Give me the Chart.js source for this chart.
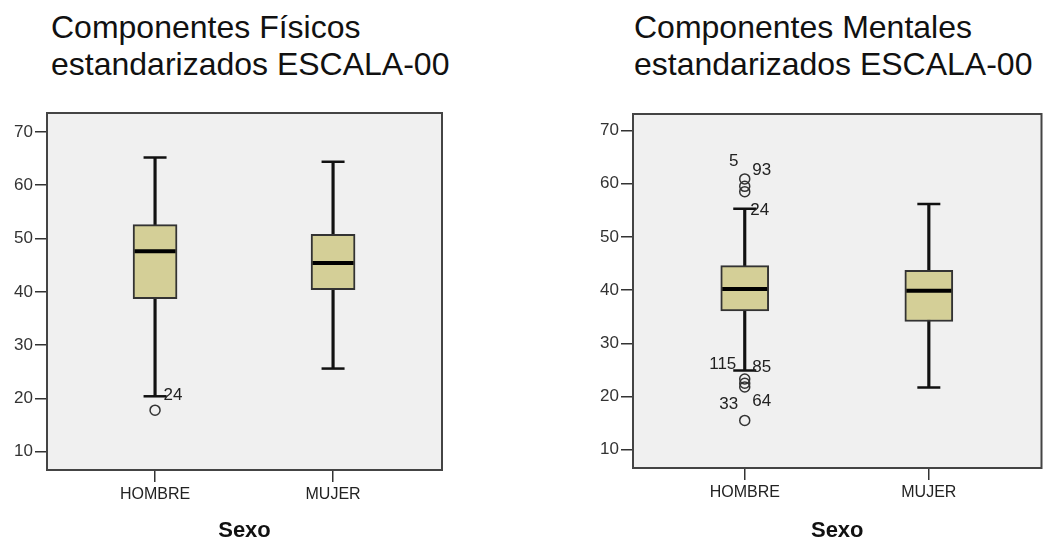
<!DOCTYPE html>
<html>
<head>
<meta charset="utf-8">
<script src="https://cdn.jsdelivr.net/npm/chart.js@4.4.0/dist/chart.umd.min.js"></script>
<style>
html, body { margin:0; padding:0; background:#fff; width:1048px; height:544px; overflow:hidden; position:relative; font-family:"Liberation Sans", Arial, sans-serif; }
.titulo { position:absolute; top:9px; font-size:32px; line-height:37px; color:#111; white-space:nowrap; }
.panel { position:absolute; top:0; height:544px; }
</style>
</head>
<body>
<div class="titulo" style="left:51px">Componentes Físicos<br>estandarizados ESCALA-00</div>
<div class="titulo" style="left:634px">Componentes Mentales<br>estandarizados ESCALA-00</div>
<div class="panel" style="left:0;width:480px"><canvas id="fisicos"></canvas></div>
<div class="panel" style="left:528px;width:540px"><canvas id="mentales"></canvas></div>
<script>
const categorias = ['HOMBRE', 'MUJER']
const yTicks = [10, 20, 30, 40, 50, 60, 70]

// Componentes fisicos
const fisMin = [20.4, 25.6]
const fisQ1 = [38.7, 40.4]
const fisMed = [47.6, 45.4]
const fisQ3 = [52.6, 50.8]
const fisMax = [65.2, 64.4]
const fisAtipHombre = [17.8]
const fisAtipMujer = []
const fisEtiquetas = ['24']
const fisEtiquetasY = [20.5]

// Componentes mentales
const menMin = [24.9, 21.7]
const menQ1 = [36.1, 34.1]
const menMed = [40.2, 39.9]
const menQ3 = [44.6, 43.7]
const menMax = [55.3, 56.2]
const menAtipHombre = [60.9, 59.5, 58.5, 23.3, 22.5, 21.8, 15.5]
const menAtipMujer = []
const menEtiquetas = ['5', '93', '24', '115', '85', '33', '64']
const menEtiquetasY = [64.2, 62.5, 55.0, 26.0, 25.4, 18.5, 19.1]

const marco = {
    id: 'marco',
    beforeDraw(chart) {
        const { ctx, chartArea: a } = chart
        ctx.save()
        ctx.fillStyle = '#f0f0f0'
        ctx.fillRect(a.left, a.top, a.width, a.height)
        ctx.restore()
    },
    beforeDatasetsDraw(chart) {
        const { ctx, chartArea: a } = chart
        ctx.save()
        ctx.strokeStyle = '#444'
        ctx.lineWidth = 2
        ctx.strokeRect(a.left, a.top, a.width, a.height)
        ctx.restore()
    }
}

const etiquetas = {
    id: 'etiquetas',
    afterDatasetsDraw(chart, args, opts) {
        const { ctx, scales } = chart
        ctx.save()
        ctx.font = '17px "Liberation Sans", Arial, sans-serif'
        ctx.fillStyle = '#222'
        ctx.textAlign = 'center'
        ctx.textBaseline = 'middle'
        opts.textos.forEach((t, i) => {
            const x = scales.x.getPixelForValue(1) + opts.dx[i]
            const y = scales.y.getPixelForValue(opts.ys[i])
            ctx.fillText(t, x, y)
        })
        ctx.restore()
    }
}

function createBoxChart(selector, min, q1, med, q3, max, atipicos, textos, textosY, estilo)
{
    const ctx = document.querySelector(selector)
    const xs = categorias.map((c, i) => i + 1)

    new Chart(ctx, {
        type: 'bar',
        data: {
            datasets: [
                {
                    data: xs.map((x, i) => ({ x: x, y: [min[i], max[i]] })),
                    backgroundColor: '#111',
                    barThickness: 2.5,
                    grouped: false,
                    order: 3
                },
                {
                    data: xs.map((x, i) => ({ x: x, y: [q1[i], q3[i]] })),
                    backgroundColor: '#d4cf97',
                    borderColor: '#333',
                    borderWidth: 2,
                    borderSkipped: false,
                    barThickness: estilo.boxWidth,
                    grouped: false,
                    order: 2
                },
                {
                    type: 'scatter',
                    data: xs.flatMap((x, i) => [{ x: x, y: min[i] }, { x: x, y: max[i] }]),
                    pointStyle: 'line',
                    pointRadius: 11.5,
                    pointBorderWidth: 2.5,
                    pointBorderColor: '#111',
                    order: 1
                },
                {
                    type: 'scatter',
                    data: xs.map((x, i) => ({ x: x, y: med[i] })),
                    pointStyle: 'line',
                    pointRadius: estilo.boxWidth / 2 - 1.5,
                    pointBorderWidth: 4,
                    pointBorderColor: '#000',
                    order: 1
                },
                {
                    type: 'scatter',
                    data: xs.flatMap((x, i) => atipicos[i].map(v => ({ x: x, y: v }))),
                    pointStyle: 'circle',
                    pointRadius: 5,
                    pointBorderWidth: 1.5,
                    pointBorderColor: '#333',
                    pointBackgroundColor: 'rgba(0,0,0,0)',
                    order: 0
                }
            ]
        },
        options: {
            responsive: true,
            maintainAspectRatio: false,
            animation: false,
            events: [],
            layout: { padding: { top: estilo.top, right: estilo.right, left: 0, bottom: 0 } },
            plugins: {
                legend: { display: false },
                tooltip: { enabled: false },
                etiquetas: { textos: textos, ys: textosY, dx: estilo.dx }
            },
            scales: {
                x: {
                    type: 'linear',
                    min: 0.393,
                    max: 2.612,
                    offset: false,
                    afterBuildTicks: s => { s.ticks = xs.map(v => ({ value: v })) },
                    afterFit: s => { s.height = estilo.axisHeight },
                    ticks: {
                        callback: v => categorias[v - 1],
                        font: { size: 16, family: '"Liberation Sans", Arial, sans-serif' },
                        color: '#222',
                        padding: 3,
                        maxRotation: 0,
                        autoSkip: false
                    },
                    grid: { offset: false, drawOnChartArea: false, drawTicks: true, tickLength: 12, color: '#333', lineWidth: 1.5 },
                    border: { display: false },
                    title: {
                        display: true,
                        text: 'Sexo',
                        font: { size: 22, weight: 'bold', family: '"Liberation Sans", Arial, sans-serif' },
                        color: '#111',
                        padding: { top: 0, bottom: 0 }
                    }
                },
                y: {
                    type: 'linear',
                    min: estilo.yMin,
                    max: estilo.yMax,
                    afterBuildTicks: s => { s.ticks = yTicks.map(v => ({ value: v })) },
                    afterFit: s => { s.width = estilo.axisWidth },
                    ticks: {
                        font: { size: 17, family: '"Liberation Sans", Arial, sans-serif' },
                        color: '#333',
                        padding: 2
                    },
                    grid: { drawOnChartArea: false, drawTicks: true, tickLength: 12, color: '#333', lineWidth: 1.5 },
                    border: { display: false }
                }
            }
        },
        plugins: [marco, etiquetas]
    })
}

createBoxChart('#fisicos', fisMin, fisQ1, fisMed, fisQ3, fisMax, [fisAtipHombre, fisAtipMujer], fisEtiquetas, fisEtiquetasY,
    { boxWidth: 44, top: 113, right: 38, axisWidth: 47, axisHeight: 74, yMin: 6.57, yMax: 73.55, dx: [18] })
createBoxChart('#mentales', menMin, menQ1, menMed, menQ3, menMax, [menAtipHombre, menAtipMujer], menEtiquetas, menEtiquetasY,
    { boxWidth: 48, top: 114, right: 10, axisWidth: 105, axisHeight: 76, yMin: 6.56, yMax: 73.1, dx: [-11, 17, 15, -22, 17, -16, 17] })
</script>
</body>
</html>
